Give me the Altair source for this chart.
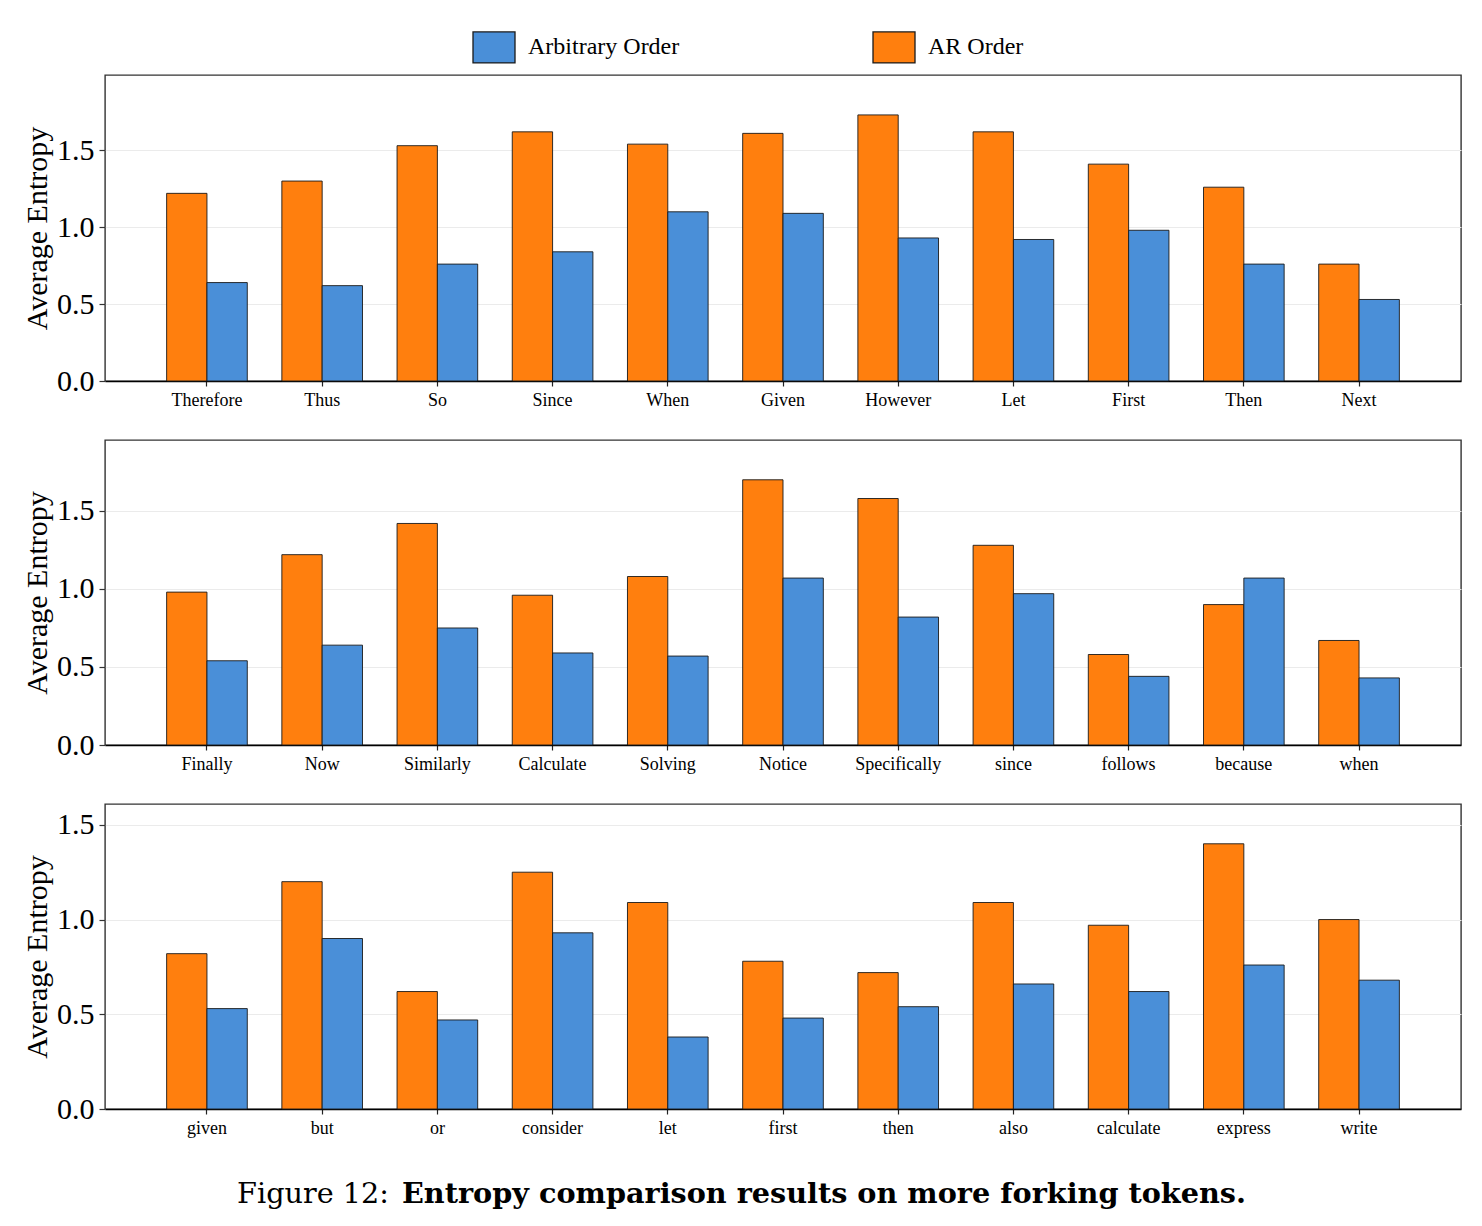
import altair as alt
import pandas as pd

SERIF = "Liberation Serif"
CAPTION_FONT = "DejaVu Serif"

# Bar order inside each token group, and legend order
SERIES = ["AR Order", "Arbitrary Order"]
LEGEND_ORDER = ["Arbitrary Order", "AR Order"]
LEGEND_COLORS = ["#4a8fd8", "#ff7f0e"]

tokens_top = ["Therefore", "Thus", "So", "Since", "When", "Given",
              "However", "Let", "First", "Then", "Next"]
ar_top = [1.22, 1.30, 1.53, 1.62, 1.54, 1.61, 1.73, 1.62, 1.41, 1.26, 0.76]
arb_top = [0.64, 0.62, 0.76, 0.84, 1.10, 1.09, 0.93, 0.92, 0.98, 0.76, 0.53]

tokens_mid = ["Finally", "Now", "Similarly", "Calculate", "Solving", "Notice",
              "Specifically", "since", "follows", "because", "when"]
ar_mid = [0.98, 1.22, 1.42, 0.96, 1.08, 1.70, 1.58, 1.28, 0.58, 0.90, 0.67]
arb_mid = [0.54, 0.64, 0.75, 0.59, 0.57, 1.07, 0.82, 0.97, 0.44, 1.07, 0.43]

tokens_bot = ["given", "but", "or", "consider", "let", "first", "then",
              "also", "calculate", "express", "write"]
ar_bot = [0.82, 1.20, 0.62, 1.25, 1.09, 0.78, 0.72, 1.09, 0.97, 1.40, 1.00]
arb_bot = [0.53, 0.90, 0.47, 0.93, 0.38, 0.48, 0.54, 0.66, 0.62, 0.76, 0.68]

y_ticks = [0.0, 0.5, 1.0, 1.5]

CAPTION_LABEL = "Figure 12:"
CAPTION_BODY = "Entropy comparison results on more forking tokens."

PLOT_W = 1356

legend = alt.Legend(
    title=None,
    orient="none",
    legendX=367,
    legendY=-50,
    direction="horizontal",
    symbolType="M-1,-0.738H1V0.738H-1Z",
    symbolSize=1764,
    symbolStrokeColor="#1a1a1a",
    symbolStrokeWidth=1.3,
    symbolOpacity=1,
    labelFont=SERIF,
    labelFontSize=24,
    labelColor="black",
    labelOffset=12,
    columnPadding=190,
    padding=0,
)


def panel(tokens, ar, arb, height):
    n = len(tokens)
    df = pd.DataFrame({
        "token": tokens + tokens,
        "order": [SERIES[0]] * n + [SERIES[1]] * n,
        "entropy": ar + arb,
    })
    y_top = max(ar + arb) * 1.15
    return alt.Chart(df).mark_bar(stroke="#1a1a1a", strokeWidth=0.9).encode(
        x=alt.X(
            "token:N", sort=tokens, title=None,
            scale=alt.Scale(paddingInner=0.3, paddingOuter=0.535),
            axis=alt.Axis(
                labelAngle=0, labelFont=SERIF, labelFontSize=18, labelColor="black",
                labelPadding=5, tickColor="#222", tickSize=5, tickWidth=1.2,
                domainColor="black", domainWidth=1.4, grid=False,
            ),
        ),
        xOffset=alt.XOffset(
            "order:N", sort=SERIES,
            scale=alt.Scale(paddingInner=0, paddingOuter=0),
        ),
        y=alt.Y(
            "entropy:Q", title="Average Entropy",
            scale=alt.Scale(domain=[0, y_top], nice=False, zero=True),
            axis=alt.Axis(
                values=y_ticks, format=".1f",
                labelFont=SERIF, labelFontSize=30, labelColor="black", labelPadding=5,
                tickColor="#333", tickSize=6, tickWidth=1.2,
                domain=False,
                grid=True, gridColor="#ebebeb", gridWidth=1,
                titleFont=SERIF, titleFontSize=30, titleFontWeight="normal",
                titleColor="black", titlePadding=4,
            ),
        ),
        color=alt.Color(
            "order:N",
            scale=alt.Scale(domain=LEGEND_ORDER, range=LEGEND_COLORS),
            legend=legend,
        ),
    ).properties(
        width=PLOT_W, height=height,
        view=alt.ViewBackground(stroke="#333333", strokeWidth=1.4),
    )


top = panel(tokens_top, ar_top, arb_top, 306)
mid = panel(tokens_mid, ar_mid, arb_mid, 305)
bot = panel(tokens_bot, ar_bot, arb_bot, 305)

# Figure caption: regular label followed by a bold body
caption_df = pd.DataFrame({"label": [CAPTION_LABEL], "body": [CAPTION_BODY]})
cap_base = alt.Chart(caption_df)
cap_label = cap_base.mark_text(
    align="right", baseline="alphabetic", font=CAPTION_FONT, fontSize=28.7,
    color="black",
).encode(text="label:N", x=alt.value(284), y=alt.value(35))
cap_body = cap_base.mark_text(
    align="left", baseline="alphabetic", font=CAPTION_FONT, fontSize=28.7,
    fontWeight="bold", color="black",
).encode(text="body:N", x=alt.value(297), y=alt.value(35))
caption = alt.layer(cap_label, cap_body).properties(
    width=PLOT_W, height=45,
    view=alt.ViewBackground(stroke="transparent"),
)

chart = alt.vconcat(top, mid, bot, caption, spacing=29).resolve_scale(
    color="shared", x="independent", y="independent", xOffset="independent",
).properties(
    padding={"left": 21, "top": 25, "right": 20, "bottom": 0},
    background="white",
).configure(font=SERIF)

chart.save("out.html", embed_options={"renderer": "svg", "actions": False})
